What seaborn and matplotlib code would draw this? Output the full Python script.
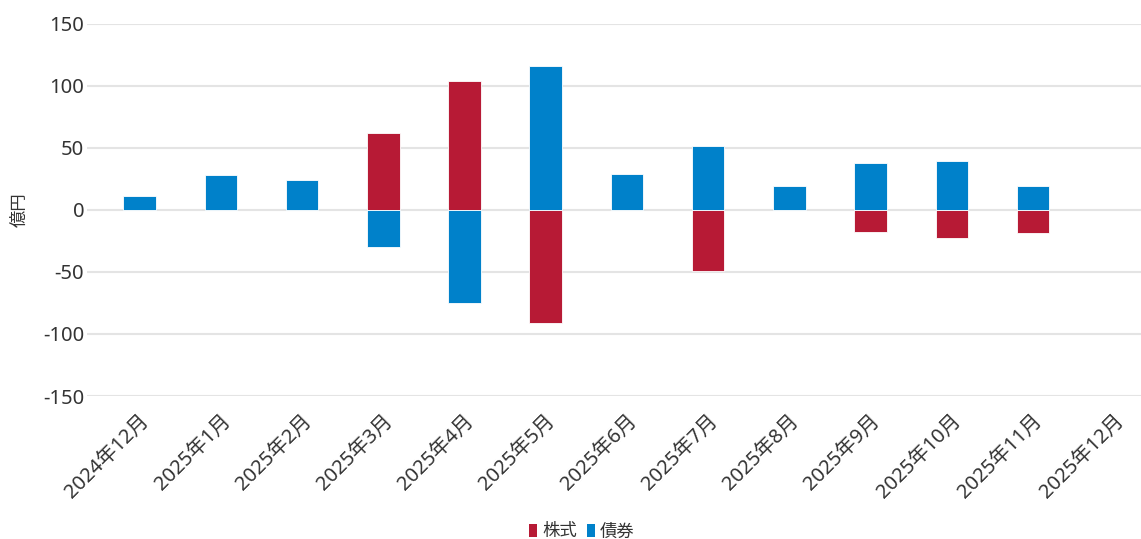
import pandas as pd
import matplotlib
matplotlib.use('Agg')
import matplotlib.pyplot as plt
import seaborn as sns
from matplotlib.patches import Patch

# Monthly net flows (億円)
months = ['2024年12月', '2025年1月', '2025年2月', '2025年3月', '2025年4月', '2025年5月',
          '2025年6月', '2025年7月', '2025年8月', '2025年9月', '2025年10月', '2025年11月',
          '2025年12月']
stocks = [0, 0, 0, 62, 104, -91, 0, -49, 0, -18, -23, -19, None]
bonds = [11, 28, 24, -30, -75, 116, 28.5, 51.5, 19, 37.5, 39, 19, None]
series_names = ['株式', '債券']
colors = ['#B71A35', '#0081CA']

df = pd.concat([
    pd.DataFrame({'月': months, '値': stocks, '種類': series_names[0]}),
    pd.DataFrame({'月': months, '値': bonds, '種類': series_names[1]}),
], ignore_index=True)
df['値'] = df['値'].astype(float)

sns.set_style('white')
plt.rcParams['font.family'] = ['Noto Sans', 'Noto Sans CJK JP', 'DejaVu Sans']
plt.rcParams['axes.unicode_minus'] = False

fig = plt.figure(figsize=(11.41, 5.39), dpi=100)
ax = fig.add_axes([0.0762, 0.2653, 0.9238, 0.6907])

sns.barplot(data=df, x='月', y='値', hue='種類', order=months, hue_order=series_names,
            palette=colors, saturation=1, dodge=False, width=0.4, errorbar=None, legend=False,
            edgecolor='white', linewidth=0.6, ax=ax, zorder=3)

ax.set_ylim(-150, 150)
ax.set_yticks(range(-150, 151, 50))
ax.set_xlim(-0.649, 12.33)
ax.yaxis.grid(True, color='#E4E4E4', linewidth=1.5, zorder=0)
ax.set_axisbelow(True)
sns.despine(ax=ax, left=True, bottom=True)
ax.tick_params(axis='both', length=0, colors='#333333')
ax.tick_params(axis='y', labelsize=14.5, pad=2)
ax.tick_params(axis='x', labelsize=14.5, pad=11)
for lab in ax.get_xticklabels():
    lab.set_rotation(45)
    lab.set_ha('right')
    lab.set_rotation_mode('anchor')

ax.set_xlabel('')
ax.set_ylabel('億円', fontsize=12.5, color='#333333', labelpad=10)

handles = [Patch(facecolor=c, edgecolor='none') for c in colors]
fig.legend(handles, series_names, loc='center', bbox_to_anchor=(0.51, 0.014),
           ncol=2, frameon=False, fontsize=12.5, handlelength=0.45, handleheight=0.8,
           handletextpad=0.3, columnspacing=0.6, labelcolor='#333333')

fig.savefig('out.png', dpi=100)
